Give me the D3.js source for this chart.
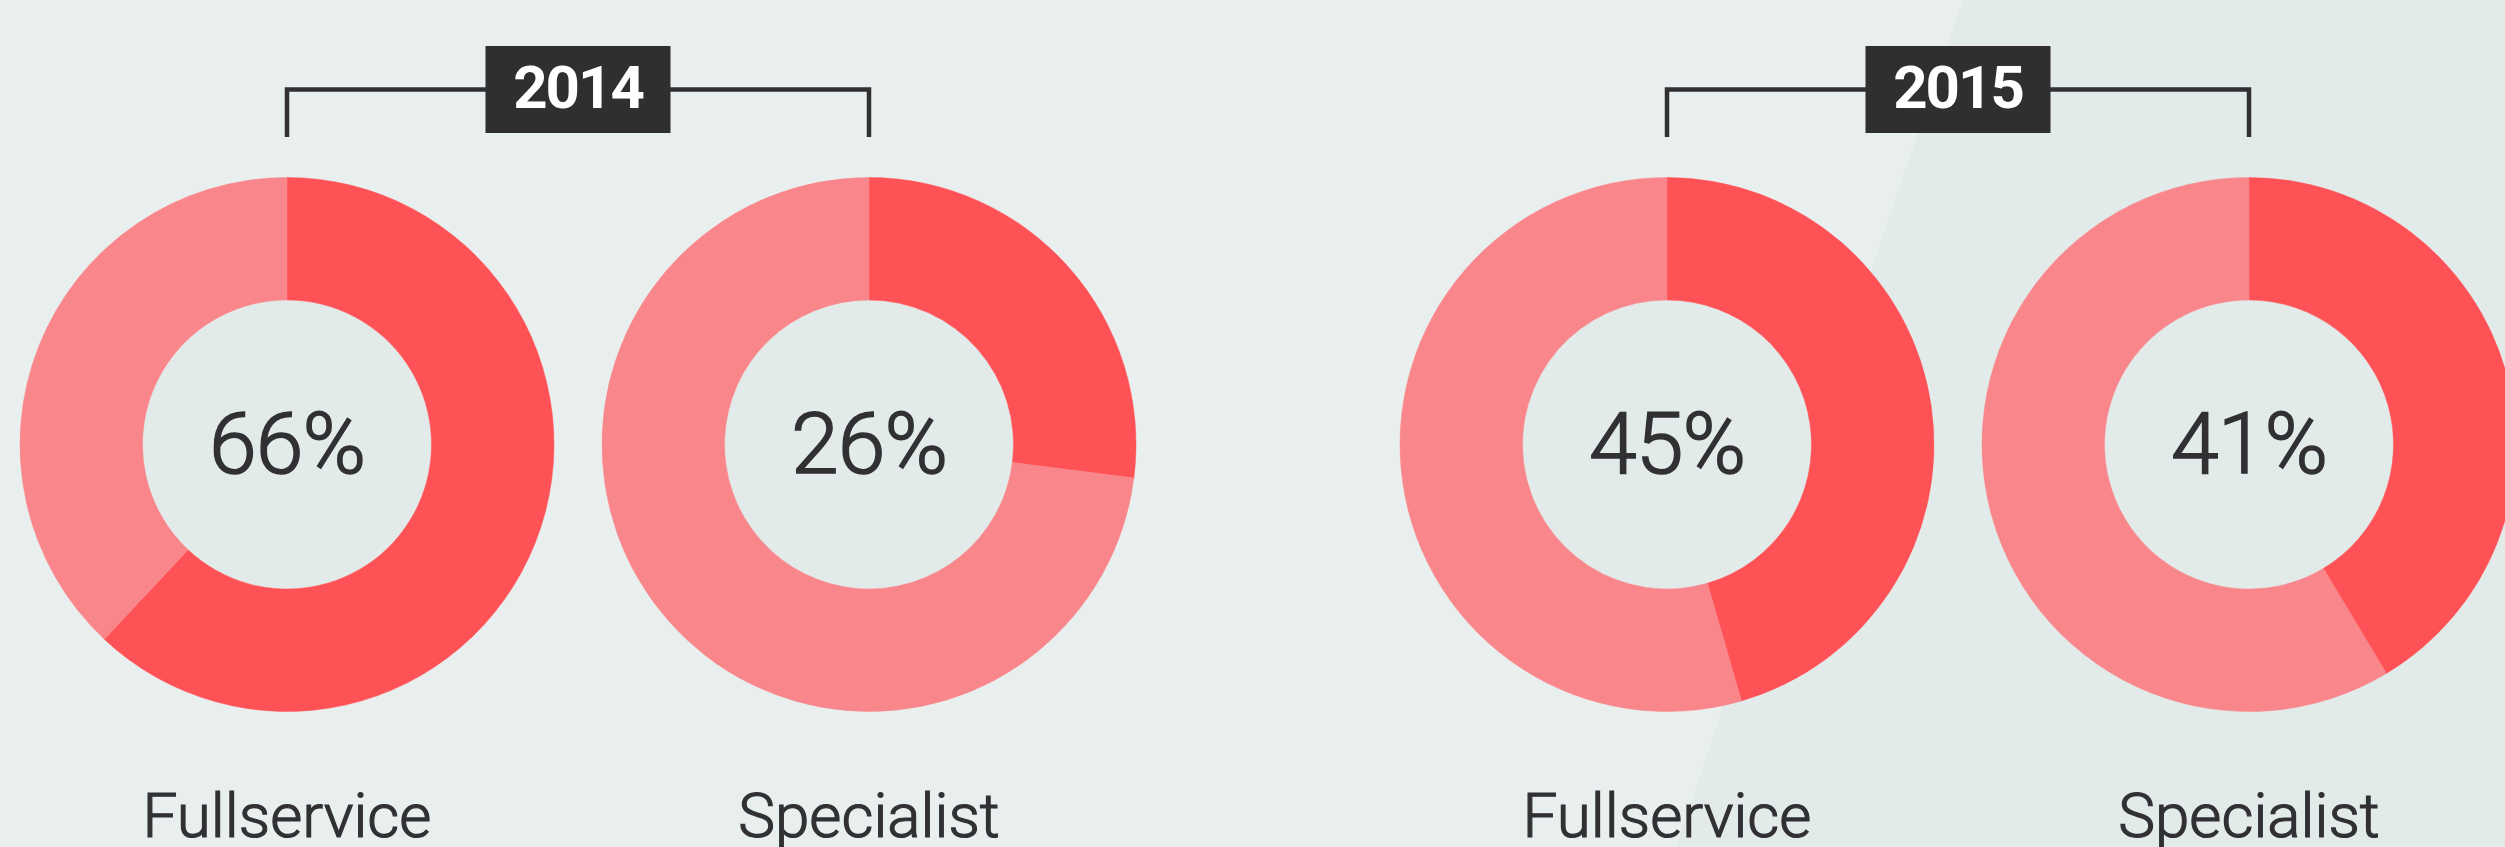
<!DOCTYPE html>
<html>
<head>
<meta charset="utf-8">
<script src="https://cdn.jsdelivr.net/npm/d3@7"></script>
<style>
  html, body { margin: 0; padding: 0; background: #E9EFEE; overflow: hidden; }
  svg { display: block; }
</style>
</head>
<body>
<svg id="chart" width="2505" height="847"></svg>
<script>
// ---- data ----
const years = ["2014", "2015"];
const segments = ["Fullservice", "Specialist"];
// label shown in each donut's centre
const percentLabels = ["66%", "26%", "45%", "41%"];
// share drawn as the dark slice
const sliceShares = [62, 27, 45.5, 41.4];

// ---- layout ----
const W = 2505, H = 847;
const svg = d3.select("#chart");

const colors = {
  bgLeft: "#E9EFEE",
  bgRight: "#E2EBE9",
  hole: "#E2EBE9",
  dark: "#FF5257",
  light: "#F9868B",
  ink: "#313134",
  box: "#2F2F31"
};

// background with diagonal shading
svg.append("rect").attr("width", W).attr("height", H).attr("fill", colors.bgLeft);
svg.append("path")
  .attr("d", `M1963,0 L${W},0 L${W},${H} L1676,${H} Z`)
  .attr("fill", colors.bgRight);

const xYear = d3.scalePoint().domain(years).range([578, 1958]);
const xSeg = d3.scalePoint().domain(segments).range([-291, 291]);

const cy = 444.5;
const rOuter = 267, rInner = 144.5;

const pie = d3.pie().sort(null).value(d => d);
const arc = d3.arc().innerRadius(rInner).outerRadius(rOuter);

const donuts = [];
years.forEach((y, yi) => {
  segments.forEach((s, si) => {
    const i = yi * segments.length + si;
    donuts.push({ year: y, seg: s, share: sliceShares[i], label: percentLabels[i],
                  cx: xYear(y) + xSeg(s) });
  });
});

// brackets + year boxes
years.forEach(y => {
  const gx = xYear(y);
  const x0 = gx + xSeg(segments[0]), x1 = gx + xSeg(segments[1]);
  svg.append("path")
    .attr("d", `M${x0},137 V89.5 H${x1} V137`)
    .attr("fill", "none")
    .attr("stroke", colors.ink)
    .attr("stroke-width", 4.5)
    .attr("stroke-linejoin", "miter");
  svg.append("rect")
    .attr("x", gx - 92.5).attr("y", 46)
    .attr("width", 185).attr("height", 87)
    .attr("fill", colors.box);
  svg.append("text")
    .attr("x", gx).attr("y", 108)
    .attr("text-anchor", "middle")
    .attr("font-family", "Roboto, 'DejaVu Sans', sans-serif")
    .attr("font-weight", 700)
    .attr("font-size", 60)
    .attr("letter-spacing", "-2px")
    .attr("fill", "#FFFFFF")
    .text(y);
});

// donuts
const g = svg.selectAll("g.donut").data(donuts).enter().append("g")
  .attr("class", "donut")
  .attr("transform", d => `translate(${d.cx},${cy})`);

g.append("circle").attr("r", rInner).attr("fill", colors.hole);

g.selectAll("path.slice")
  .data(d => pie([d.share, 100 - d.share]))
  .enter().append("path")
  .attr("class", "slice")
  .attr("d", arc)
  .attr("fill", (d, i) => i === 0 ? colors.dark : colors.light)
  .attr("stroke", (d, i) => i === 0 ? colors.dark : colors.light)
  .attr("stroke-width", 0.5);

g.append("text")
  .attr("x", 0).attr("y", 472.7 - cy)
  .attr("text-anchor", "middle")
  .attr("font-family", "Roboto, 'DejaVu Sans', sans-serif")
  .attr("font-weight", 300)
  .attr("font-size", 86)
  .attr("letter-spacing", "-1px")
  .attr("fill", colors.ink)
  .attr("stroke", colors.ink)
  .attr("stroke-width", 1.6)
  .text(d => d.label);

g.append("text")
  .attr("x", 0).attr("y", 837 - cy)
  .attr("text-anchor", "middle")
  .attr("font-family", "Roboto, 'DejaVu Sans', sans-serif")
  .attr("font-weight", 300)
  .attr("font-size", 62)
  .attr("fill", colors.ink)
  .attr("stroke", colors.ink)
  .attr("stroke-width", 1.2)
  .text(d => d.seg);
</script>
</body>
</html>
